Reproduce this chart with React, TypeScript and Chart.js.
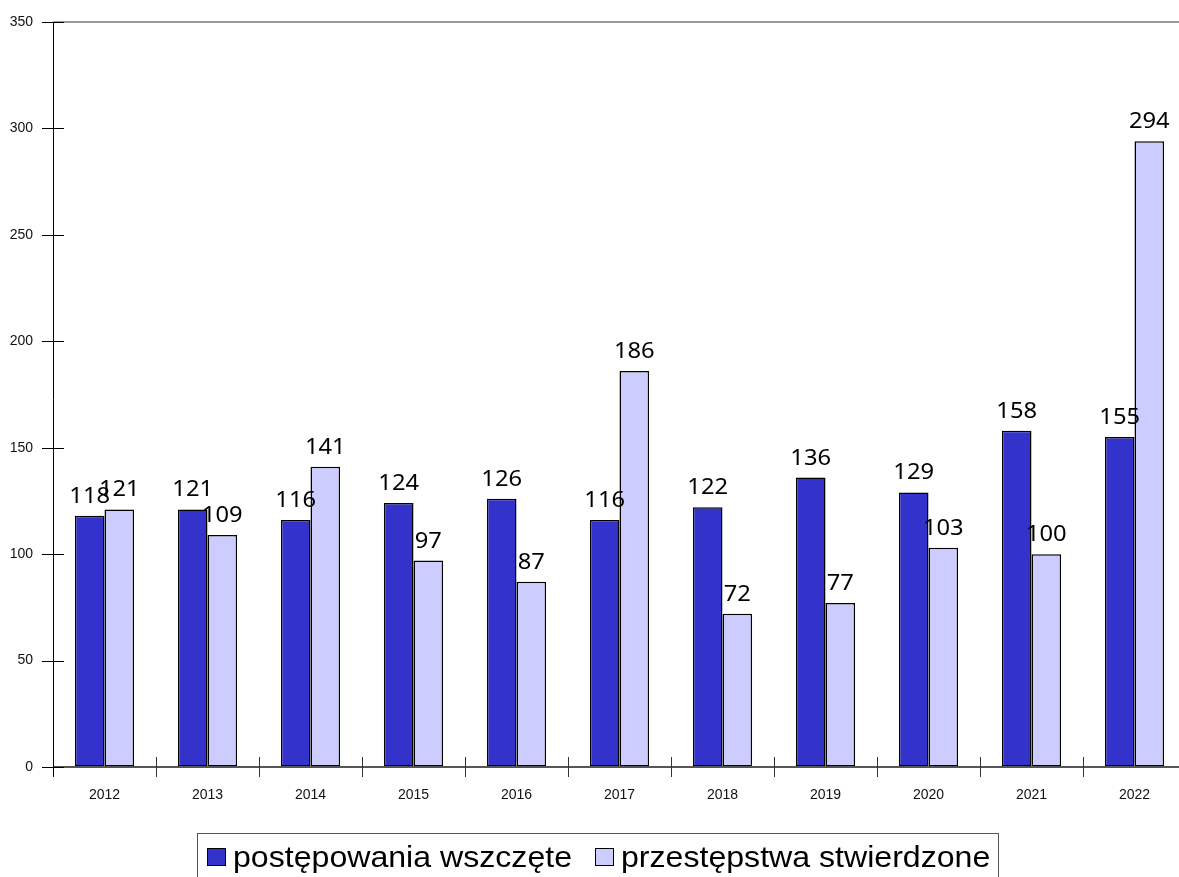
import React, { useEffect, useRef } from "react";
import { Chart, registerables } from "chart.js";

Chart.register(...registerables);

const years = ["2012", "2013", "2014", "2015", "2016", "2017", "2018", "2019", "2020", "2021", "2022"];
const initiated = [118, 121, 116, 124, 126, 116, 122, 136, 129, 158, 155];
const confirmed = [121, 109, 141, 97, 87, 186, 72, 77, 103, 100, 294];
const seriesNames = ["postępowania wszczęte", "przestępstwa stwierdzone"];
const seriesColors = ["#3333CC", "#CCCCFF"];
const yMax = 350;
const yStep = 50;

const axesPlugin = {
  id: "axesPlugin",
  afterDraw(chart: any) {
    const { ctx, chartArea, scales } = chart;
    const y = scales.y;
    const { left, right, top, bottom } = chartArea;
    ctx.save();
    // top frame line
    ctx.strokeStyle = "#9a9a9a";
    ctx.lineWidth = 2;
    ctx.beginPath();
    ctx.moveTo(left, y.getPixelForValue(yMax));
    ctx.lineTo(right + 20, y.getPixelForValue(yMax));
    ctx.stroke();
    // x axis line
    ctx.strokeStyle = "#555555";
    ctx.lineWidth = 2;
    ctx.beginPath();
    ctx.moveTo(left, bottom);
    ctx.lineTo(right + 20, bottom);
    ctx.stroke();
    // y axis line
    ctx.strokeStyle = "#000000";
    ctx.lineWidth = 1;
    ctx.beginPath();
    ctx.moveTo(left + 0.5, top);
    ctx.lineTo(left + 0.5, bottom + 10);
    ctx.stroke();
    // y ticks crossing
    y.ticks.forEach((t: any) => {
      const py = Math.round(y.getPixelForValue(t.value)) + 0.5;
      ctx.beginPath();
      ctx.moveTo(left - 11, py);
      ctx.lineTo(left + 11, py);
      ctx.stroke();
    });
    // x boundary ticks crossing
    ctx.strokeStyle = "#333333";
    const n = years.length;
    const w = (right - left) / n;
    for (let i = 1; i <= n; i++) {
      const px = Math.round(left + i * w) + 0.5;
      ctx.beginPath();
      ctx.moveTo(px, bottom - 10);
      ctx.lineTo(px, bottom + 10);
      ctx.stroke();
    }
    ctx.restore();
  },
};

const labelPlugin = {
  id: "labelPlugin",
  afterDatasetsDraw(chart: any) {
    const { ctx } = chart;
    chart.data.datasets.forEach((ds: any, di: number) => {
      const meta = chart.getDatasetMeta(di);
      meta.data.forEach((bar: any, i: number) => {
        ctx.save();
        ctx.font = "21px 'Noto Sans', 'Open Sans', sans-serif";
        ctx.fillStyle = "#000";
        ctx.textAlign = "center";
        ctx.textBaseline = "alphabetic";
        ctx.translate(bar.x, bar.y - 13);
        ctx.scale(1.13, 1);
        ctx.fillText(String(ds.data[i]), 0, 0);
        ctx.restore();
      });
    });
  },
};

export default function App() {
  const ref = useRef<HTMLCanvasElement | null>(null);
  useEffect(() => {
    if (!ref.current) return;
    const chart = new Chart(ref.current, {
      type: "bar",
      data: {
        labels: years,
        datasets: [
          {
            label: seriesNames[0],
            data: initiated,
            backgroundColor: seriesColors[0],
            borderColor: "#000",
            borderWidth: 1.5,
            borderSkipped: false,
            categoryPercentage: 0.575,
            barPercentage: 1,
          },
          {
            label: seriesNames[1],
            data: confirmed,
            backgroundColor: seriesColors[1],
            borderColor: "#000",
            borderWidth: 1.5,
            borderSkipped: false,
            categoryPercentage: 0.575,
            barPercentage: 1,
          },
        ],
      },
      options: {
        animation: false,
        responsive: false,
        maintainAspectRatio: false,
        layout: { padding: { top: 22, right: 0, left: 0, bottom: 0 } },
        plugins: {
          legend: { display: false },
          tooltip: { enabled: false },
        },
        scales: {
          x: {
            grid: { display: true, drawOnChartArea: false, drawTicks: true, tickLength: 10, color: "rgba(0,0,0,0)" },
            border: { display: false },
            ticks: {
              padding: 10,
              color: "#111",
              font: { family: "'Liberation Sans', Arial, sans-serif", size: 14 },
              maxRotation: 0,
            },
            afterFit(scale: any) {
              scale.height = 110;
            },
          },
          y: {
            min: 0,
            max: yMax,
            grid: { display: true, drawOnChartArea: false, drawTicks: true, tickLength: 11, color: "rgba(0,0,0,0)" },
            border: { display: false },
            ticks: {
              stepSize: yStep,
              padding: 9,
              color: "#111",
              font: { family: "'Liberation Sans', Arial, sans-serif", size: 14 },
            },
            afterFit(scale: any) {
              scale.width = 53;
            },
          },
        },
      },
      plugins: [axesPlugin, labelPlugin],
    });
    return () => chart.destroy();
  }, []);

  const sq = (c: string, left: number): React.CSSProperties => ({
    position: "absolute",
    left,
    top: 848,
    width: 19,
    height: 18,
    background: c,
    border: "1px solid #000",
    boxSizing: "border-box",
  });
  const txt = (left: number): React.CSSProperties => ({
    position: "absolute",
    left,
    top: 840,
    fontFamily: "'Liberation Sans', Arial, sans-serif",
    fontSize: 30,
    lineHeight: "34px",
    whiteSpace: "nowrap",
    color: "#000",
    transform: "scaleX(1.07)",
    transformOrigin: "left center",
  });

  return (
    <div style={{ position: "fixed", left: 0, top: 0, width: 1179, height: 877, overflow: "hidden", background: "#fff" }}>
      <canvas ref={ref} width={1186} height={877} style={{ position: "absolute", left: 0, top: 0, width: 1186, height: 877 }} />
      <div
        style={{
          position: "absolute",
          left: 197,
          top: 833,
          width: 802,
          height: 60,
          border: "1px solid #555",
          boxSizing: "border-box",
        }}
      />
      <span style={sq(seriesColors[0], 207)} />
      <span style={txt(233)}>{seriesNames[0]}</span>
      <span style={sq(seriesColors[1], 595)} />
      <span style={txt(621)}>{seriesNames[1]}</span>
    </div>
  );
}
